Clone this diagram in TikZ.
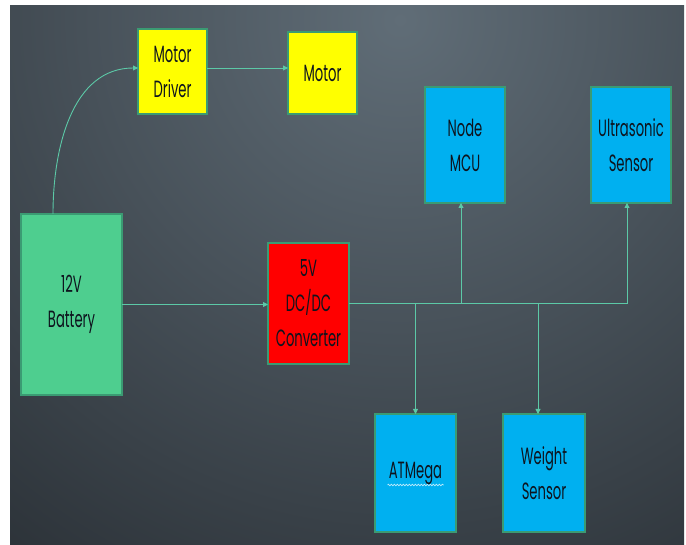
\documentclass[tikz,border=0pt]{standalone}
\usepackage{fontspec}
\setmainfont[FakeStretch=0.56]{Poppins}
\definecolor{bglight}{RGB}{96,109,119}
\definecolor{bgdark}{RGB}{18,21,25}
\definecolor{battgreen}{RGB}{78,206,143}
\definecolor{drvyellow}{RGB}{255,255,0}
\definecolor{convred}{RGB}{255,0,0}
\definecolor{modblue}{RGB}{0,176,240}
\definecolor{edgegreen}{RGB}{59,155,115}
\definecolor{wiregreen}{RGB}{92,201,167}
\definecolor{inktext}{RGB}{14,20,30}
\usetikzlibrary{arrows.meta, decorations.pathmorphing}

\begin{document}
\begin{tikzpicture}[
  x=1pt, y=-1pt,
  font=\fontsize{23.5}{35}\selectfont,
  wire/.style={-{Triangle[length=5pt, width=5pt]}, line width=0.9pt, wiregreen},
  blk/.style={draw=edgegreen, line width=1.5pt, align=center, text=inktext,
              inner sep=0pt, outer sep=0pt},
  squiggle/.style={decorate, decoration={snake, amplitude=0.8pt, segment length=3pt},
              line width=0.7pt, white!75!modblue},
]
% background
\fill[white] (0,0) rectangle (686,545);
\fill[bgdark] (10,6) rectangle (684,545);
\begin{scope}
  \clip (10,6) rectangle (684,545);
  \shade[inner color=bglight, outer color=bgdark] (400,20) circle (1000);
\end{scope}

\node[blk, fill=battgreen, minimum width=101, minimum height=181] (bat) at (71.5,304.5) {12V\\Battery};
\node[blk, fill=drvyellow, minimum width=69, minimum height=85] (drv) at (172.5,71.5) {Motor\\Driver};
\node[blk, fill=drvyellow, minimum width=69, minimum height=82] (motor) at (322.5,73) {Motor};
\node[blk, fill=convred, minimum width=81, minimum height=121] (conv) at (308.5,303.5) {5V\\DC/DC\\Converter};
\node[blk, fill=modblue, minimum width=80, minimum height=116] (mcu) at (465,145) {Node\\MCU};
\node[blk, fill=modblue, minimum width=80, minimum height=116] (ultra) at (631,145) {Ultrasonic\\Sensor};
\node[blk, fill=modblue, minimum width=81, minimum height=118] (atm) at (415.5,473) {ATMega};
\node[blk, fill=modblue, minimum width=82, minimum height=118] (wgt) at (544,473) {Weight\\Sensor};
\draw[squiggle] ([xshift=-28pt, yshift=-12pt]atm.center) -- ([xshift=28pt, yshift=-12pt]atm.center);

\draw[wire] ([xshift=-18.5pt]bat.north) to[out=90, in=180] ([yshift=3.5pt]drv.west);
\draw[wire] ([yshift=3.5pt]drv.east) -- ([yshift=3.5pt]drv.east -| motor.west);
\draw[wire] (bat.east) -- (bat.east -| conv.west);
\draw[wire] (conv.east) -| ([xshift=-4pt]ultra.south);
\draw[wire] ([xshift=-4pt]mcu.south |- conv.east) -- ([xshift=-4pt]mcu.south);
\draw[wire] (atm.north |- conv.east) -- (atm.north);
\draw[wire] ([xshift=-6pt]wgt.north |- conv.east) -- ([xshift=-6pt]wgt.north);
\end{tikzpicture}
\end{document}
